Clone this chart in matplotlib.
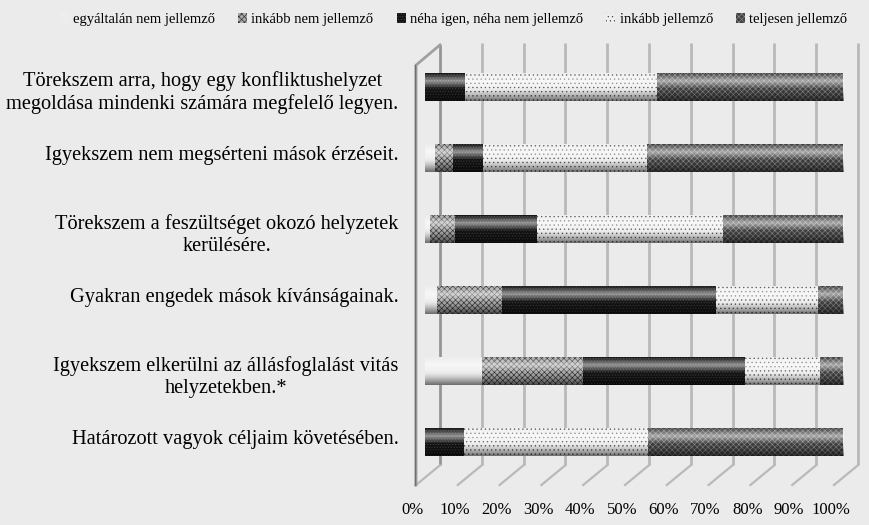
import numpy as np
import matplotlib.pyplot as plt
from matplotlib.patches import Patch, Ellipse
from matplotlib.transforms import ScaledTranslation, blended_transform_factory

plt.rcParams['font.family'] = ['Liberation Serif', 'DejaVu Serif']
plt.rcParams['hatch.linewidth'] = 0.45

# adatok (leolvasva az ábráról, %)
kategoriak = [
    "Törekszem arra, hogy egy konfliktushelyzet\nmegoldása mindenki számára megfelelő legyen.",
    "Igyekszem nem megsérteni mások érzéseit.",
    "Törekszem a feszültséget okozó helyzetek\nkerülésére.",
    "Gyakran engedek mások kívánságainak.",
    "Igyekszem elkerülni az állásfoglalást vitás\nhelyzetekben.*",
    "Határozott vagyok céljaim követésében.",
]
sorozatok = ["egyáltalán nem jellemző", "inkább nem jellemző", "néha igen, néha nem jellemző",
             "inkább jellemző", "teljesen jellemző"]
egyaltalan = [0, 2.4, 1.2, 2.9, 13.6, 0]
inkabb_nem = [0, 4.3, 6.0, 15.6, 24.2, 0]
neha = [9.6, 7.2, 19.6, 51.0, 38.8, 9.3]
inkabb_jell = [45.9, 39.2, 44.5, 24.6, 17.9, 44.0]
teljesen = [44.5, 46.9, 28.7, 6.0, 5.5, 46.7]
tick_ertekek = list(range(0, 101, 10))
tick_cimkek = [f"{t}%" for t in tick_ertekek]

ertekek = [egyaltalan, inkabb_nem, neha, inkabb_jell, teljesen]
# kitöltés: (szín, mintázat, mintázat színe)
stilusok = [
    ('#ededed', None, '#ededed'),
    ('#a8a8a8', 'xxxxxx', '#2e2e2e'),
    ('#141414', '......', '#444444'),
    ('#f0f0f0', '....', '#505050'),
    ('#404040', 'xxxxxx', '#8a8a8a'),
]

bg = '#ebebeb'
fig = plt.figure(figsize=(8.69, 5.25), dpi=100, facecolor=bg)
ax = fig.add_axes([425 / 869, 40 / 525, 418 / 869, 450 / 525])
ax.set_facecolor('none')

y = np.arange(len(kategoriak))
vastag = 0.39
bal = np.zeros(len(kategoriak))
for vals, (fc, h, hc) in zip(ertekek, stilusok):
    ax.barh(y, vals, left=bal, height=vastag, color=fc, hatch=h, edgecolor=hc,
            linewidth=0, zorder=3)
    bal += np.array(vals)

# henger jellegű árnyékolás
t = np.linspace(0, 1, 80)
grad = np.zeros((80, 1, 4))
for i, v in enumerate(t):
    if v < 0.55:
        grad[i, 0] = [1, 1, 1, max(0.0, 0.55 * (1 - abs(v - 0.28) / 0.28))]
    else:
        grad[i, 0] = [0, 0, 0, 0.55 * ((v - 0.55) / 0.45) ** 1.3]
for yi, tot in zip(y, bal):
    ax.imshow(grad, extent=(0, tot, yi + vastag / 2, yi - vastag / 2), aspect='auto',
              zorder=4, interpolation='bilinear')
    # jobb oldali lekerekített vég
    utolso = [k for k in range(len(ertekek)) if ertekek[k][yi] > 0][-1]
    fc, h, hc = stilusok[utolso]
    ax.add_patch(Ellipse((tot, yi), 2.0, vastag, facecolor=fc, hatch=h, edgecolor=hc,
                         linewidth=0, zorder=2.9))

ax.set_xlim(0, 100)
ax.set_ylim(5.606, -0.732)

# 3D-s fal és padló vonalai
px = ax.get_position().width * fig.get_figwidth() * fig.dpi / 100.0  # pixel / adategység
tr = blended_transform_factory(ax.transData, ax.transAxes)
hat = tr + ScaledTranslation(15 / 100, 0, fig.dpi_scale_trans)
elol = tr + ScaledTranslation(-9 / 100, 0, fig.dpi_scale_trans)
melyseg = 24 / px
for k in tick_ertekek:
    szin = '#959595' if k == 0 else '#b9b9b9'
    ax.plot([k, k], [0.044, 0.982 if k else 0.978], color=szin, lw=2.0, transform=hat,
            zorder=1, clip_on=False, solid_capstyle='butt')
    ax.plot([k, k + melyseg], [0.0, 0.044], color='#b9b9b9', lw=1.6, transform=elol,
            zorder=1, clip_on=False)
ax.plot([0, 0, melyseg], [0.0, 0.933, 0.978], color='#a0a0a0', lw=2.0, transform=elol,
        zorder=1, clip_on=False)
ax.plot([0, 0], [0.0, 0.933], color='#707070', lw=1.0, transform=elol +
        ScaledTranslation(-1.5 / 100, 0, fig.dpi_scale_trans), zorder=1, clip_on=False)

ax.set_xticks(tick_ertekek)
ax.set_xticklabels(tick_cimkek, fontsize=12)
ax.tick_params(axis='x', length=0, pad=12)
for lab in ax.get_xticklabels():
    lab.set_transform(lab.get_transform() + ScaledTranslation(-12 / 100, 0, fig.dpi_scale_trans))
ax.set_yticks(y)
ax.set_yticklabels(kategoriak, fontsize=14.7, multialignment='center')
ax.tick_params(axis='y', length=0, pad=19)
for lab in ax.get_yticklabels():
    dy = -2 if '\n' in lab.get_text() else 5
    lab.set_transform(lab.get_transform() + ScaledTranslation(0, dy / 100, fig.dpi_scale_trans))
for s in ax.spines.values():
    s.set_visible(False)

kezelok = [Patch(facecolor=fc, hatch=h, edgecolor=hc, linewidth=0) for fc, h, hc in stilusok]
fig.legend(kezelok, sorozatok, loc='upper center', bbox_to_anchor=(0.522, 1.0), ncol=5,
           frameon=False, fontsize=10.5, handlelength=0.6, handleheight=0.6,
           handletextpad=0.3, columnspacing=1.6)

fig.savefig('out.png', dpi=100, facecolor=bg)
